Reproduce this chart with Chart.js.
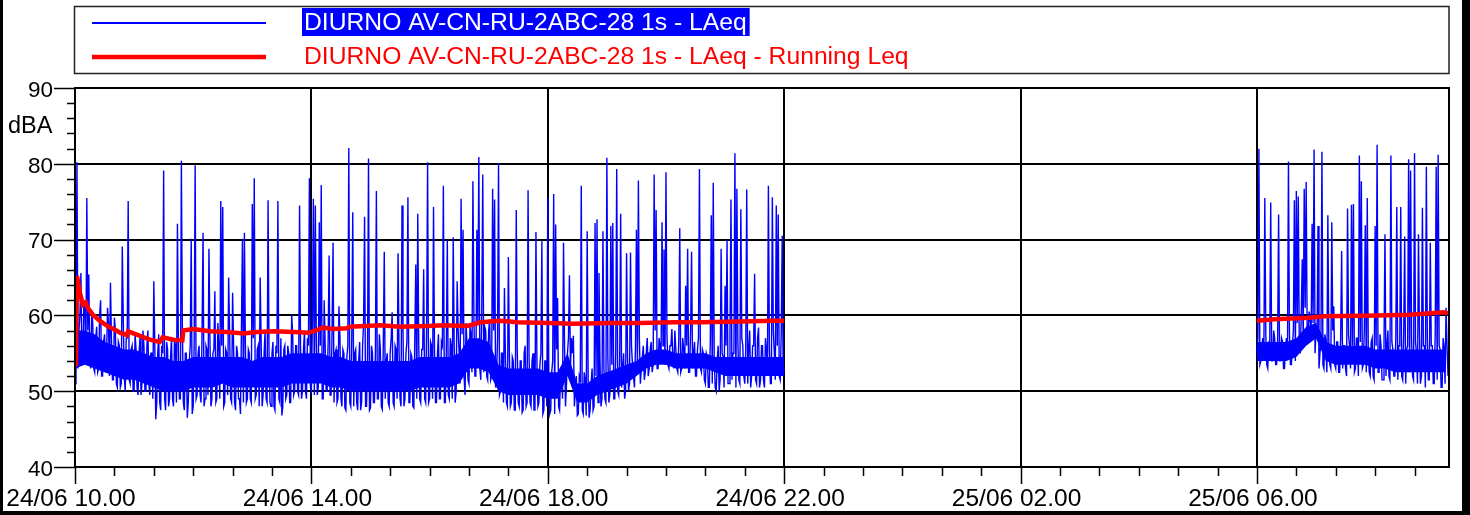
<!DOCTYPE html>
<html>
<head>
<meta charset="utf-8">
<script src="https://cdn.jsdelivr.net/npm/chart.js@4/dist/chart.umd.min.js"></script>
<style>
  html, body { margin: 0; padding: 0; background: #fff; }
  canvas { display: block; }
</style>
</head>
<body>
<canvas id="leq" width="1470" height="515"></canvas>
<script>
// ─── Data ───────────────────────────────────────────────────────────────────
// Minutes counted from 24/06 10.00. LAeq read every minute (even minutes in
// laeqDay / laeqMorning, odd minutes in the *Odd arrays), noise floor
// envelope every 10 minutes.

const MORNING_START = 1200;   // 25/06 06.00
const X_MAX = 1395;           // 25/06 09.15
const BAND_STEP = 10;

const laeqDay = [
  51.0, 80.2, 58, 65.6, 54, 61, 75.5, 65.4, 53, 59,
  52.5, 58.5, 53, 62, 52, 57.5, 54, 59, 64.3, 51.5,
  59.7, 51, 56.5, 50.5, 69.1, 52, 57, 75.1, 51, 56,
  50, 55.5, 49.5, 57, 51, 56, 50, 58, 49.5, 55,
  64.5, 46.3, 55, 48.5, 56, 79.1, 47.5, 55.5, 49, 57,
  48, 56, 72.1, 49, 80.4, 48.5, 55, 46.5, 54, 70.1,
  48, 79.8, 49.5, 56, 48.5, 70.9, 49, 55.5, 68.8, 48,
  55, 63.2, 49, 56, 75.1, 74.3, 48.5, 55, 65.0, 49,
  63.0, 48.5, 56, 49, 47, 70.1, 70.9, 48.5, 55.5, 49,
  74.7, 78.1, 49.5, 56, 65.0, 48, 55, 49, 75.2, 48.5,
  55, 48, 56, 75.1, 48.5, 46.8, 55.5, 49, 56, 48.5,
  60.1, 49.5, 56, 50, 74.5, 49, 55.5, 50, 57, 78.1,
  50, 75.4, 74.5, 49.5, 72.3, 77.2, 49, 56, 50, 67.9,
  49.5, 69.6, 55, 48.5, 61.2, 49, 55.5, 47.8, 54.5, 82.1,
  48, 73.6, 55, 48.5, 54, 47.5, 56, 73.0, 48, 80.7,
  47.8, 55, 48.5, 76.4, 49, 55.5, 47.6, 68.4, 54, 48.5,
  55, 60.4, 48, 55.5, 68.2, 49, 74.5, 48, 55, 75.6,
  48.5, 54.5, 47.8, 66.7, 73.4, 49, 55.5, 66.1, 48.5, 80.2,
  49, 56, 74.3, 48.5, 55, 49, 56.5, 77.1, 48.5, 69.9,
  49, 56, 70.3, 48.5, 64.5, 55, 75.4, 71.3, 49.5, 56,
  51, 57.5, 77.7, 52, 71.3, 80.9, 51.5, 78.6, 58.5, 52,
  58, 51.5, 76.7, 75.3, 52, 80.1, 50, 55, 63.6, 48.5,
  67.7, 48, 54.5, 47.5, 73.9, 48.5, 54, 47.2, 55, 48,
  76.5, 48.5, 54, 47.5, 71.0, 48, 53.5, 69.8, 47.5, 54,
  75.5, 47, 52.5, 76.0, 72.0, 62.3, 47.5, 52, 69.6, 48,
  55, 65.3, 57, 57.3, 50, 46.8, 52, 77.1, 47, 51.5,
  71.1, 46.5, 51, 47.5, 72.2, 72.7, 65.6, 48, 71.1, 49,
  80.8, 48.5, 71.8, 72.2, 49, 79.3, 49.5, 73.4, 53, 49,
  68.2, 50, 68.3, 53.5, 50.5, 71.3, 77.8, 51, 54.5, 51.5,
  55, 52, 55.5, 52.5, 78.6, 73.9, 53, 56, 72.3, 68.7,
  78.9, 53.5, 56, 58.2, 53, 55.5, 52.5, 71.5, 53, 55.5,
  63.9, 68.8, 52.5, 68.4, 55, 52, 55.5, 79.3, 52.5, 55,
  51, 54.5, 50.5, 73.2, 77.5, 50.5, 54, 50, 68.8, 54.5,
  63.9, 69.9, 51, 75.3, 55, 81.4, 76.7, 51.5, 74.0, 56,
  51, 76.6, 55.5, 50.5, 56, 65.5, 51, 58.4, 51.5, 56,
  50.5, 55.5, 77.1, 51, 75.6, 55, 74.5, 73.3, 51.5, 70.5,
  53
];

const laeqDayOdd = [
  56, 53, 60, 54, 62, 53.5, 58, 54, 60.5, 53,
  57, 52.5, 60, 52, 56.5, 53, 61, 52, 57, 51.5,
  58, 50.5, 56, 51, 59.5, 50, 57, 51.5, 55.5, 50,
  57.5, 50.5, 55, 49.5, 58, 50, 56, 51, 55, 49,
  56, 48.5, 57.5, 47.5, 55, 49, 56.5, 48, 54.5, 49,
  57, 48.5, 55.5, 49, 58.5, 47.5, 55, 48.5, 56, 47,
  56.5, 49, 55, 49.5, 58, 48, 56, 49.5, 57, 49,
  55.5, 48.5, 59, 49, 56, 48, 55.5, 49.5, 57.5, 48.5,
  56, 47.5, 55, 49, 58.5, 48.5, 56, 49, 55, 48.5,
  57, 49, 55.5, 48, 56.5, 49.5, 58, 48.5, 55, 48,
  56.5, 47.5, 55, 49, 57, 48, 56, 49.5, 55, 48.5,
  57.5, 50, 56, 49.5, 55.5, 50, 58, 49, 56, 50.5,
  59, 49.5, 57, 50.5, 56, 49, 62, 50, 56.5, 49.5,
  58, 48.5, 55.5, 49, 57, 48, 55, 47.5, 56, 48.5,
  57, 48, 55.5, 47.5, 56.5, 48.5, 59, 48, 55, 47.5,
  56, 48.5, 55, 49, 57.5, 48, 56, 49, 55, 48,
  57, 48.5, 56, 49, 55.5, 48, 58, 49, 56.5, 48.5,
  55, 48, 57, 49, 56, 48.5, 55.5, 49, 58.5, 48.5,
  56.5, 49, 55, 48.5, 57.5, 49, 56, 48.5, 55.5, 49.5,
  57, 49, 56, 50, 58, 51, 57.5, 52, 59, 51.5,
  58.5, 52.5, 60, 52, 59, 53, 61, 52.5, 58, 51.5,
  59.5, 52, 58, 50.5, 57, 49.5, 55, 48.5, 54.5, 48,
  55, 48.5, 54, 47.5, 55.5, 48, 54, 47.5, 56, 48.5,
  54.5, 48, 55, 47.5, 53.5, 48.5, 55, 47, 54, 48,
  53, 47.5, 54, 47, 55.5, 48, 52.5, 49, 56, 51,
  57, 53, 55, 48, 52, 47, 51.5, 47.5, 52.5, 46.8,
  51.5, 47.5, 53, 48, 52, 48.5, 54, 49, 53, 48.5,
  54.5, 49.5, 53.5, 49, 55, 50, 54, 50.5, 55, 50,
  54.5, 51, 56, 52, 55.5, 52.5, 57, 53, 56, 52.5,
  57, 53, 56.5, 53.5, 58, 53, 57, 54, 56, 53.5,
  57.5, 53, 56, 54, 58, 53, 56.5, 52.5, 57, 53,
  56, 52.5, 58, 53, 56.5, 52, 57, 53, 55.5, 51.5,
  55, 50.5, 56.5, 51, 54.5, 50, 56, 51.5, 55, 50.5,
  56, 51, 57.5, 51.5, 55, 50.5, 56.5, 51, 57, 52,
  55.5, 51, 58, 52, 56, 51.5, 57, 50.5, 56, 51.5,
  57, 52, 55.5, 51, 58, 51.5, 56, 52, 57.5, 52
];

const laeqMorning = [
  55, 82.0, 54, 57, 75.5, 53.5, 56.5, 74.9, 54, 57,
  53.5, 73.3, 54, 56.5, 53, 57, 80.3, 53.5, 56, 75.2,
  76.4, 75.7, 55, 67.4, 76.7, 77.6, 57.5, 59.5, 72.1, 81.9,
  58, 71.8, 55, 81.6, 53, 56.5, 73.2, 53.5, 72.3, 61.2,
  53, 56.5, 52.5, 68.5, 56, 53, 74.1, 56, 74.6, 74.7,
  53, 57, 81.1, 77.7, 53.5, 71.9, 75.5, 52.5, 56.5, 52,
  71.8, 82.5, 52.5, 56, 51.5, 70.7, 56, 52, 81.1, 55.5,
  52, 74.3, 56, 74.3, 51.5, 70.4, 55.5, 80.6, 79.1, 52,
  81.4, 55, 70.7, 51, 74.2, 56, 79.6, 51.5, 69.6, 56,
  51, 79.6, 81.2, 55.5, 50.5, 56, 61.0, 52
];

const laeqMorningOdd = [
  57, 53.5, 56, 54, 57.5, 53, 56.5, 54, 58, 53.5,
  56.5, 54, 57, 53, 56, 54.5, 57.5, 53.5, 58, 54,
  59, 56, 60, 57, 61, 58, 60.5, 57.5, 59, 55,
  57, 53, 56.5, 53.5, 57.5, 52.5, 56, 53, 58, 53.5,
  56.5, 52.5, 57, 53, 56, 52, 57.5, 53, 56, 52.5,
  57, 52, 56.5, 53, 58, 52.5, 56, 52, 57, 51.5,
  56, 52.5, 57.5, 51.5, 56, 52, 58, 51.5, 56.5, 52,
  57, 51.5, 56, 52, 57.5, 51, 56, 52.5, 57, 51.5,
  56.5, 51, 58, 52, 56, 50.5, 57, 51.5, 56, 51,
  57.5, 51.5, 56, 50.5, 57, 51, 56
];

// dense part of the trace (background noise), lower / upper edge
const floorDayLow = [
  53, 53.5, 53, 52.5, 52, 51.5, 51.5, 51, 50.5, 50, 50, 50, 50.5, 50.5, 50.5,
  51, 50.5, 50.5, 50.5, 50.5, 50.5, 50.5, 51, 51, 51, 51, 50.5, 50.5, 50, 50,
  50, 50, 50, 50, 50, 50.5, 50.5, 50.5, 50.5, 51, 53, 53, 52.5, 50, 49.5, 49.5,
  49.5, 49.5, 49, 49, 52, 48.5, 48.5, 49.5, 50, 50.5, 51, 52, 53, 53.5, 53.5,
  53, 53, 53, 53, 52.5, 52, 52, 52, 52, 52, 52, 52
];
const floorDayHigh = [
  58, 58, 57.5, 56.5, 56, 55.5, 55.5, 55, 54.5, 54.5, 54, 54, 54.5, 54.5, 54.5,
  54.5, 54.5, 54.5, 54, 54.5, 54.5, 54.5, 55, 55, 55, 55, 54.5, 54.5, 54, 54,
  54, 54, 54, 54, 54, 54.5, 54.5, 54.5, 54.5, 55, 57, 57, 56.5, 53.5, 53, 53,
  53, 53, 52.5, 52.5, 55, 51, 51, 52, 52.5, 53, 53.5, 54, 55, 55.5, 55.5,
  55, 55, 55, 55, 54.5, 54.5, 54.5, 54.5, 54.5, 54.5, 54.5, 54.5
];
const floorMorningLow = [
  54, 54, 54, 54, 54.5, 56, 57, 54, 53.5, 53.5,
  53.5, 53.5, 53, 53, 52.5, 52.5, 52.5, 52.5, 52.5, 52.5
];
const floorMorningHigh = [
  56.5, 56.5, 56.5, 56.5, 57, 58.5, 59, 56.5, 56, 56,
  56, 56, 55.5, 55.5, 55.5, 55.5, 55.5, 55.5, 55.5, 55.5
];

const runningMinutes = [
  0, 1, 2, 5, 8, 11, 13, 18, 25, 33, 39, 46, 53, 54, 66, 76, 86, 89, 100, 109,
  110, 120, 137, 154, 171, 185, 201, 222, 237, 246, 252, 262, 276, 279, 310, 330,
  358, 374, 398, 404, 412, 432, 449, 482, 506, 541, 574, 608, 635, 676, 709, 720,
  null,
  1200, 1218, 1252, 1269, 1321, 1355, 1389, 1394
];
const runningLeq = [
  53.6, 54.4, 65.2, 63.0, 61.4, 61.7, 61.0, 60.1, 59.3, 58.6, 58.2, 57.7, 57.4, 57.9, 57.3, 56.8, 56.5, 57.1, 56.8, 56.7,
  58.0, 58.2, 57.9, 57.8, 57.6, 57.8, 57.9, 57.8, 57.7, 58.1, 58.4, 58.2, 58.3, 58.5, 58.7, 58.5,
  58.6, 58.7, 58.6, 58.8, 59.1, 59.3, 59.1, 59.0, 58.9, 59.0, 59.0, 59.1, 59.1, 59.2, 59.3, 59.3,
  null,
  59.3, 59.5, 59.7, 59.9, 60.0, 60.1, 60.4, 60.3
];

const xTickMinutes = [0, 240, 480, 720, 960, 1200];
const xTickLabels = ['24/06 10.00', '24/06 14.00', '24/06 18.00', '24/06 22.00', '25/06 02.00', '25/06 06.00'];
const yTickValues = [40, 50, 60, 70, 80, 90];

const SERIES_LAEQ = 'DIURNO AV-CN-RU-2ABC-28 1s - LAeq';
const SERIES_RUNNING = 'DIURNO AV-CN-RU-2ABC-28 1s - LAeq - Running Leq';
const UNIT_LABEL = 'dBA';

// ─── Styling ────────────────────────────────────────────────────────────────

const FONT_FAMILY = "'Liberation Sans', Arial, sans-serif";
const BLUE = '#0000ff';
const RED = '#ff0000';
const INK = '#000000';

// ─── Points ─────────────────────────────────────────────────────────────────

// even + odd minute readings
function minuteSeries(even, odd, start, pts) {
  even.forEach((y, i) => {
    pts.push({ x: start + i * 2, y });
    if (i < odd.length) pts.push({ x: start + i * 2 + 1, y: odd[i] });
  });
  return pts;
}

function buildLaeqPoints() {
  const pts = minuteSeries(laeqDay, laeqDayOdd, 0, []);
  pts.push({ x: 722, y: null });   // no measurement overnight
  return minuteSeries(laeqMorning, laeqMorningOdd, MORNING_START, pts);
}

function bandSeries(dayValues, morningValues) {
  const pts = dayValues.map((y, i) => ({ x: i * BAND_STEP, y }));
  pts.push({ x: dayValues.length * BAND_STEP, y: null });
  morningValues.forEach((y, i) => pts.push({ x: MORNING_START + i * BAND_STEP, y }));
  return pts;
}

function buildRunningPoints() {
  return runningMinutes.map((m, i) => (
    m === null ? { x: 730, y: null } : { x: m, y: runningLeq[i] }
  ));
}

function drawText(ctx, text, x, y, size, align) {
  ctx.font = `${size}px ${FONT_FAMILY}`;
  ctx.textAlign = align;
  ctx.textBaseline = 'alphabetic';
  ctx.fillText(text, x, y);
}

// ─── Frame, ticks, labels and legend ────────────────────────────────────────

const decorPlugin = {
  id: 'leqDecor',

  beforeDraw(chart) {
    const ctx = chart.ctx;
    ctx.save();
    ctx.fillStyle = '#fff';
    ctx.fillRect(0, 0, chart.width, chart.height);
    ctx.restore();
  },

  afterDraw(chart) {
    const ctx = chart.ctx;
    const area = chart.chartArea;
    const xs = chart.scales.x;
    const ys = chart.scales.y;

    ctx.save();

    // plot border
    ctx.strokeStyle = INK;
    ctx.lineWidth = 2;
    ctx.strokeRect(area.left, area.top, area.right - area.left, area.bottom - area.top);

    // tick marks: long on labelled values, short in between
    ctx.lineWidth = 1.5;
    ctx.beginPath();
    for (let v = 40; v <= 90; v += 2) {
      const py = Math.round(ys.getPixelForValue(v)) + 0.5;
      const len = v % 10 === 0 ? 21 : 8;
      ctx.moveTo(area.left - len, py);
      ctx.lineTo(area.left, py);
    }
    for (let m = 0; m <= X_MAX; m += 40) {
      const px = Math.round(xs.getPixelForValue(m)) + 0.5;
      const len = m % 240 === 0 ? 17 : 9;
      ctx.moveTo(px, area.bottom);
      ctx.lineTo(px, area.bottom + len);
    }
    ctx.stroke();

    // tick labels
    ctx.fillStyle = INK;
    ys.ticks.forEach(t => {
      drawText(ctx, String(t.value), area.left - 22, ys.getPixelForValue(t.value) + 8.7, 22.5, 'right');
    });
    xs.ticks.forEach((t, i) => {
      drawText(ctx, xTickLabels[i], xs.getPixelForValue(t.value) - 4, area.bottom + 39, 24.5, 'center');
    });
    drawText(ctx, UNIT_LABEL, 8, 133, 23.5, 'left');

    // legend box
    const laeq = chart.data.datasets[0];
    const running = chart.data.datasets[1];
    ctx.lineWidth = 1.5;
    ctx.strokeStyle = '#222';
    ctx.strokeRect(74.5, 6.5, area.right - 74.5, 67);

    ctx.strokeStyle = laeq.borderColor;
    ctx.lineWidth = 2;
    ctx.beginPath();
    ctx.moveTo(92, 23);
    ctx.lineTo(266, 23);
    ctx.stroke();

    ctx.strokeStyle = running.borderColor;
    ctx.lineWidth = 4.5;
    ctx.beginPath();
    ctx.moveTo(92, 57);
    ctx.lineTo(266, 57);
    ctx.stroke();

    ctx.font = `24.7px ${FONT_FAMILY}`;
    const w = ctx.measureText(laeq.label).width;
    ctx.fillStyle = BLUE;
    ctx.fillRect(302, 8, w + 5, 28);
    ctx.fillStyle = '#fff';
    drawText(ctx, laeq.label, 304, 30, 24.7, 'left');
    ctx.fillStyle = running.borderColor;
    drawText(ctx, running.label, 304, 64, 24.7, 'left');

    // outer frame
    ctx.fillStyle = INK;
    ctx.fillRect(0, 0, 3, chart.height);
    ctx.fillRect(1462, 0, 8, chart.height);
    ctx.fillRect(0, 511, chart.width, 4);

    ctx.restore();
  }
};

// ─── Chart ──────────────────────────────────────────────────────────────────

new Chart(document.getElementById('leq'), {
  type: 'line',
  data: {
    datasets: [
      {
        label: SERIES_LAEQ,
        data: buildLaeqPoints(),
        borderColor: BLUE,
        borderWidth: 1.4,
        pointRadius: 0,
        tension: 0,
        spanGaps: false,
        order: 1
      },
      {
        label: SERIES_RUNNING,
        data: buildRunningPoints(),
        borderColor: RED,
        borderWidth: 4.5,
        pointRadius: 0,
        tension: 0,
        spanGaps: false,
        order: 0
      },
      {
        label: 'floor low',
        data: bandSeries(floorDayLow, floorMorningLow),
        borderColor: BLUE,
        borderWidth: 0,
        pointRadius: 0,
        tension: 0,
        spanGaps: false,
        fill: false,
        order: 3
      },
      {
        label: 'floor high',
        data: bandSeries(floorDayHigh, floorMorningHigh),
        borderColor: BLUE,
        backgroundColor: BLUE,
        borderWidth: 0,
        pointRadius: 0,
        tension: 0,
        spanGaps: false,
        fill: '-1',
        order: 2
      }
    ]
  },
  plugins: [decorPlugin],
  options: {
    responsive: false,
    animation: false,
    devicePixelRatio: 1,
    layout: { padding: { left: 0, right: 21, top: 88, bottom: 0 } },
    plugins: {
      legend: { display: false },
      tooltip: { enabled: false }
    },
    scales: {
      x: {
        type: 'linear',
        min: 0,
        max: X_MAX,
        afterBuildTicks: (scale) => { scale.ticks = xTickMinutes.map(v => ({ value: v })); },
        afterFit: (scale) => { scale.height = 48; },
        ticks: { display: false },
        grid: { color: INK, lineWidth: 2, drawTicks: false },
        border: { color: INK, width: 2 }
      },
      y: {
        min: 40,
        max: 90,
        afterBuildTicks: (scale) => { scale.ticks = yTickValues.map(v => ({ value: v })); },
        afterFit: (scale) => { scale.width = 75; },
        ticks: { display: false },
        grid: { color: INK, lineWidth: 2, drawTicks: false },
        border: { color: INK, width: 2 }
      }
    }
  }
});
</script>
</body>
</html>
